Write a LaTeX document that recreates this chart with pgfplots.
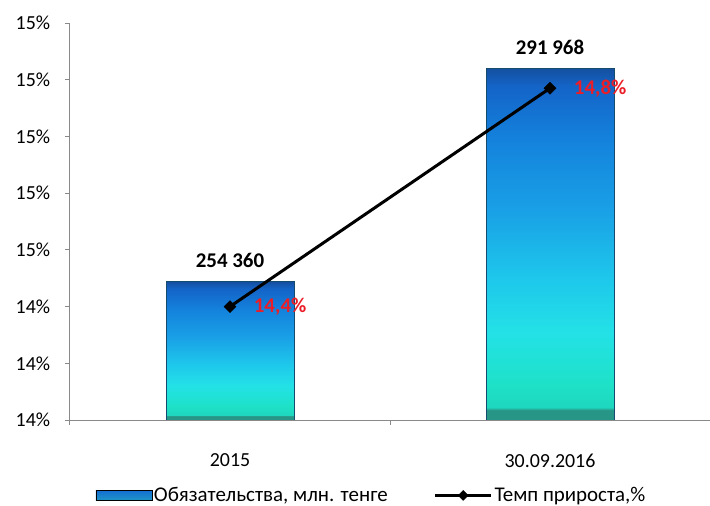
\documentclass[border=0pt]{standalone}
\usepackage{fontspec}
\setmainfont{Carlito}
\usepackage{pgfplots}
\pgfplotsset{compat=1.18}
\definecolor{sA}{RGB}{40,150,135}
\definecolor{sB}{RGB}{30,215,190}
\definecolor{sC}{RGB}{30,225,200}
\definecolor{sD}{RGB}{35,225,230}
\definecolor{sE}{RGB}{30,200,235}
\definecolor{sF}{RGB}{25,160,230}
\definecolor{sG}{RGB}{20,130,220}
\definecolor{sH}{RGB}{20,100,200}
\definecolor{sI}{RGB}{20,80,160}
\pgfdeclareverticalshading{barshade}{100bp}{color(0bp)=(sA); color(25bp)=(sA); color(26.4bp)=(sA); color(26.8bp)=(sB); color(30bp)=(sC); color(37.5bp)=(sD); color(45bp)=(sE); color(55bp)=(sF); color(65bp)=(sG); color(72.5bp)=(sH); color(75bp)=(sI); color(100bp)=(sI)}
\definecolor{barEdge}{RGB}{20,75,110}
\definecolor{axisgray}{RGB}{137,137,137}
\definecolor{lblred}{RGB}{235,30,40}
\definecolor{legTop}{RGB}{20,110,210}
\definecolor{legBot}{RGB}{30,150,200}
\begin{document}
\fontsize{20}{24}\selectfont
\begin{tikzpicture}
\useasboundingbox (-70bp,-86bp) rectangle (640bp,420bp);
\begin{axis}[
  scale only axis, width=640bp, height=397bp,
  xmin=-0.5, xmax=1.5, ymin=0, ymax=70000,
  axis lines=none, clip=false,
  y filter/.expression={y-230000},
]
\addplot[ybar, bar width=128bp, bar shift=0pt, shading=barshade, draw=barEdge, line width=1bp,
  nodes near coords, point meta=explicit symbolic,
  every node near coord/.append style={font=\fontsize{21}{24}\selectfont\bfseries, text=black, anchor=south, yshift=7bp}]
  coordinates {(0,254360) [254 360]};
\addplot[ybar, bar width=128bp, bar shift=0pt, shading=barshade, draw=barEdge, line width=1bp,
  nodes near coords, point meta=explicit symbolic,
  every node near coord/.append style={font=\fontsize{21}{24}\selectfont\bfseries, text=black, anchor=south, yshift=7bp}]
  coordinates {(1,291968) [291 968]};
\end{axis}
\begin{axis}[
  scale only axis, width=640bp, height=397bp,
  xmin=-0.5, xmax=1.5, ymin=14.2, ymax=14.9,
  axis x line*=bottom, axis y line*=left,
  axis line style={axisgray, line width=1bp, -},
  xtick={-0.5,0.5,1.5}, xticklabels={},
  extra x ticks={0,1}, extra x tick labels={2015,30.09.2016},
  extra x tick style={major tick length=0pt},
  ytick={14.2,14.3,14.4,14.5,14.6,14.7,14.8,14.9},
  yticklabels={14\%,14\%,14\%,15\%,15\%,15\%,15\%,15\%},
  tick align=outside, major tick length=5bp,
  tick style={axisgray, line width=1bp},
  xticklabel style={yshift=-27bp},
  yticklabel style={xshift=-8bp},
  tick label style={font=\fontsize{20}{24}\selectfont, text=black},
  clip=false,
  legend style={draw=none, fill=none, at={(0.035,-0.19)}, anchor=west, legend columns=2,
    font=\fontsize{21}{24}\selectfont, /tikz/every even column/.append style={column sep=44bp}},
  legend cell align=left,
]
\addlegendimage{legend image code/.code={\shade[top color=legTop,bottom color=legBot] (0bp,-5bp) rectangle (56bp,5bp);}}
\addlegendentry{Обязательства, млн. тенге}
\addplot[black, line width=3bp, mark=square*, mark size=4.2bp, mark options={rotate=45, line width=0.5bp},
  legend image code/.code={\draw[black, line width=3bp, mark=square*, mark size=3.5bp, mark options={rotate=45, line width=0.5bp}, mark repeat=2, mark phase=2] plot coordinates {(0bp,0bp) (28bp,0bp) (56bp,0bp)};},
  nodes near coords, point meta=explicit symbolic,
  every node near coord/.append style={font=\fontsize{21}{24}\selectfont\bfseries, text=lblred, anchor=west, xshift=17bp, yshift=0bp}]
  coordinates {(0,14.4) [14,4\%] (1,14.785) [14,8\%]};
\addlegendentry{Темп прироста,\%}
\end{axis}
\end{tikzpicture}
\end{document}
